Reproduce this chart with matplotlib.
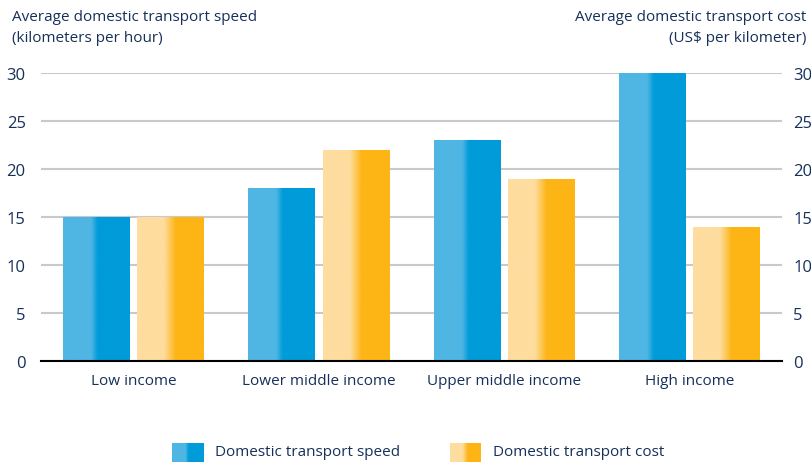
import numpy as np
import matplotlib
matplotlib.use("Agg")
import matplotlib.pyplot as plt
from matplotlib.colors import to_rgb

categories = ["Low income", "Lower middle income", "Upper middle income", "High income"]
speed = [15, 18, 23, 30]
cost = [15, 22, 19, 14]
series_names = ["Domestic transport speed", "Domestic transport cost"]
yticks = [0, 5, 10, 15, 20, 25, 30]

TXT = "#16305a"
plt.rcParams['font.family'] = ['Open Sans', 'DejaVu Sans']

def grad(light, dark, t0, t1, n=200):
    l = np.array(to_rgb(light)); d = np.array(to_rgb(dark))
    t = np.linspace(0, 1, n)
    w = np.clip((t - t0) / (t1 - t0), 0, 1)
    return (l[None, :] * (1 - w[:, None]) + d[None, :] * w[:, None])[None, :, :]

blue_g = grad("#4fb6e4", "#009bd9", 0.42, 0.52)
yel_g = grad("#fedd9f", "#fdb515", 0.40, 0.58)

fig = plt.figure(figsize=(8.11, 4.64), dpi=100)
L, R = 41 / 811, 782 / 811
B, T = 1 - 362 / 464, 1 - 74 / 464
ax = fig.add_axes([L, B, R - L, T - B])
ax2 = ax.twinx()

x = np.arange(len(categories))
w = 0.36
gap = 0.02
b1 = ax.bar(x - w / 2 - gap, speed, w, color="none", zorder=3)
b2 = ax.bar(x + w / 2 + gap, cost, w, color="none", zorder=3)
for bars, g in ((b1, blue_g), (b2, yel_g)):
    for p in bars:
        x0, y0 = p.get_x(), p.get_y()
        im = ax.imshow(g, extent=[x0, x0 + p.get_width(), y0, y0 + p.get_height()],
                       aspect='auto', zorder=2, interpolation='bilinear')
        im.set_clip_path(p)

ax.set_xlim(-0.5, 3.5)
ax.set_ylim(0, 30)
ax2.set_ylim(0, 30)
ax.set_yticks(yticks)
ax2.set_yticks(yticks)
ax.set_xticks(x)
ax.set_xticklabels(categories)
for a in (ax, ax2):
    for s in a.spines.values():
        s.set_visible(False)
    a.tick_params(axis='y', length=0, labelsize=12, labelcolor=TXT)
ax.tick_params(axis='y', pad=11)
ax2.tick_params(axis='y', pad=8)
ax.tick_params(axis='x', length=0, pad=9, labelsize=11, labelcolor=TXT)
ax.spines['bottom'].set_visible(True)
ax.spines['bottom'].set_color('black')
ax.spines['bottom'].set_linewidth(1.5)
ax.spines['bottom'].set_zorder(5)
ax.set_axisbelow(True)
ax.yaxis.grid(True, color="#c8c8cd", linewidth=1.5)

fig.text(12 / 811, 1 - 10 / 464, "Average domestic transport speed\n(kilometers per hour)",
         ha='left', va='top', fontsize=11, color=TXT, linespacing=1.5)
fig.text(806 / 811, 1 - 10 / 464, "Average domestic transport cost\n(US$ per kilometer)",
         ha='right', va='top', fontsize=11, color=TXT, linespacing=1.5, multialignment='right')

# legend
legend_items = [(172, blue_g, series_names[0]), (450, yel_g, series_names[1])]
for px, g, name in legend_items:
    lax = fig.add_axes([px / 811, 1 - 463 / 464, 31 / 811, 19 / 464])
    lax.imshow(g, aspect='auto', extent=[0, 1, 0, 1], interpolation='bilinear')
    lax.axis('off')
    fig.text((px + 43) / 811, 1 - 453 / 464, name, ha='left', va='center',
             fontsize=11, color=TXT)

fig.savefig("out.png", dpi=100)
